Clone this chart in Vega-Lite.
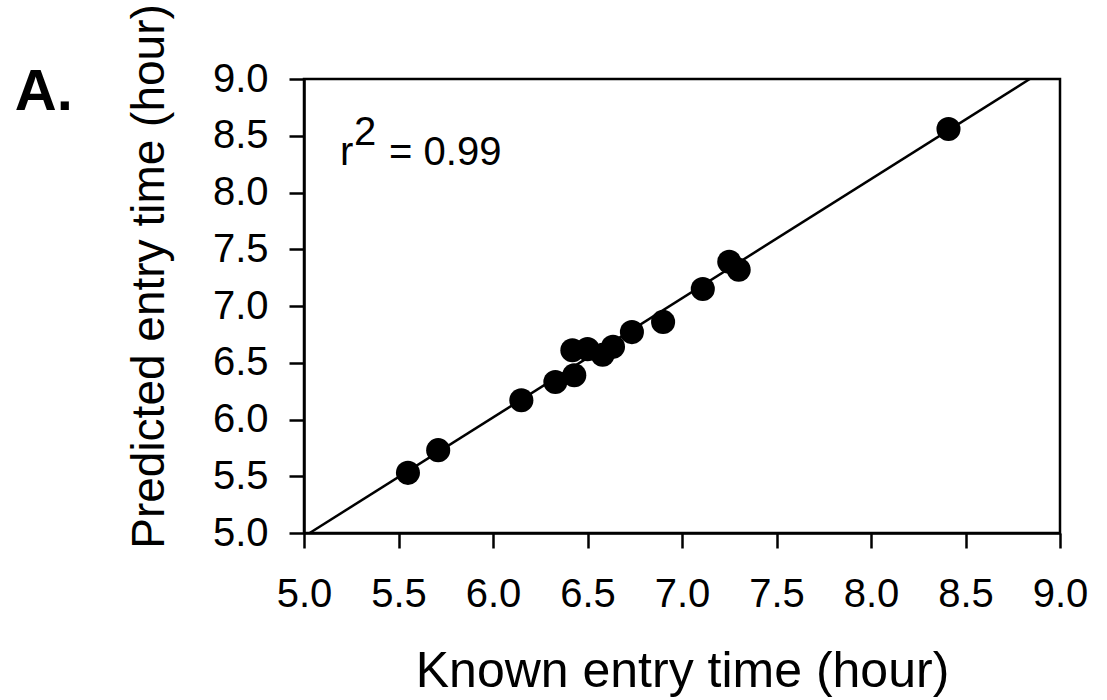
{
  "$schema": "https://vega.github.io/schema/vega-lite/v6.json",
  "width": 756,
  "height": 454,
  "autosize": {"type": "none"},
  "padding": {"left": 304, "top": 79, "right": 47, "bottom": 167},
  "background": "white",
  "config": {
    "view": {"stroke": "black", "strokeWidth": 2.5},
    "font": "Liberation Sans"
  },
  "datasets": {
    "pts": [
      {"known": 5.55, "pred": 5.53},
      {"known": 5.71, "pred": 5.73},
      {"known": 6.15, "pred": 6.17},
      {"known": 6.33, "pred": 6.33},
      {"known": 6.43, "pred": 6.39},
      {"known": 6.42, "pred": 6.61},
      {"known": 6.50, "pred": 6.62},
      {"known": 6.58, "pred": 6.57},
      {"known": 6.635, "pred": 6.64},
      {"known": 6.735, "pred": 6.77},
      {"known": 6.90, "pred": 6.86},
      {"known": 7.11, "pred": 7.15},
      {"known": 7.25, "pred": 7.39},
      {"known": 7.30, "pred": 7.32},
      {"known": 8.41, "pred": 8.56}
    ],
    "fit": [
      {"known": 5.03, "pred": 5.0},
      {"known": 8.84, "pred": 9.0}
    ],
    "notes": [
      {"known": 5.19, "pred": 8.242, "label": "r"},
      {"known": 5.265, "pred": 8.419, "label": "2"},
      {"known": 5.45, "pred": 8.242, "label": "= 0.99"}
    ],
    "panel": [
      {"known": 3.47, "pred": 8.727, "label": "A."}
    ]
  },
  "encoding": {
    "x": {
      "field": "known",
      "type": "quantitative",
      "scale": {"domain": [5, 9], "nice": false, "zero": false},
      "axis": {
        "title": "Known entry time (hour)",
        "values": [5, 5.5, 6, 6.5, 7, 7.5, 8, 8.5, 9],
        "format": ".1f",
        "grid": false,
        "domainColor": "black",
        "domainWidth": 2.5,
        "tickColor": "black",
        "tickWidth": 2.5,
        "tickSize": 15,
        "labelFont": "Liberation Sans",
        "labelFontSize": 40,
        "labelColor": "black",
        "labelPadding": 26,
        "labelOverlap": false,
        "labelFlush": false,
        "titleFont": "Liberation Sans",
        "titleFontSize": 50,
        "titleFontWeight": "normal",
        "titleColor": "black",
        "titleBaseline": "alphabetic",
        "titleY": 153
      }
    },
    "y": {
      "field": "pred",
      "type": "quantitative",
      "scale": {"domain": [5, 9], "nice": false, "zero": false},
      "axis": {
        "title": "Predicted entry time (hour)",
        "values": [5, 5.5, 6, 6.5, 7, 7.5, 8, 8.5, 9],
        "format": ".1f",
        "grid": false,
        "domainColor": "black",
        "domainWidth": 2.5,
        "tickColor": "black",
        "tickWidth": 2.5,
        "tickSize": 15,
        "labelFont": "Liberation Sans",
        "labelFontSize": 40,
        "labelColor": "black",
        "labelPadding": 21,
        "labelOverlap": false,
        "labelFlush": false,
        "titleFont": "Liberation Sans",
        "titleFontSize": 46,
        "titleFontWeight": "normal",
        "titleColor": "black",
        "titleBaseline": "alphabetic",
        "titleX": -141,
        "titleY": 197
      }
    }
  },
  "layer": [
    {
      "data": {"name": "fit"},
      "mark": {"type": "line", "color": "black", "strokeWidth": 2.5}
    },
    {
      "data": {"name": "pts"},
      "mark": {"type": "circle", "color": "black", "opacity": 1, "size": 580}
    },
    {
      "data": {"name": "notes"},
      "mark": {"type": "text", "align": "left", "baseline": "alphabetic", "font": "Liberation Sans", "fontSize": 40, "color": "black"},
      "encoding": {"text": {"field": "label"}}
    },
    {
      "data": {"name": "panel"},
      "mark": {"type": "text", "align": "left", "baseline": "alphabetic", "font": "Liberation Sans", "fontSize": 58, "fontWeight": "bold", "color": "black", "clip": false},
      "encoding": {"text": {"field": "label"}}
    }
  ]
}
